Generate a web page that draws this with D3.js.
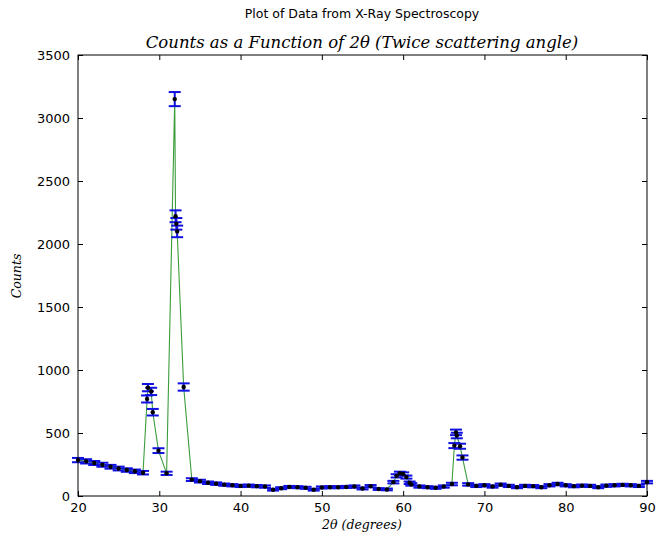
<!DOCTYPE html>
<html>
<head>
<meta charset="utf-8">
<script src="https://cdn.jsdelivr.net/npm/d3@7"></script>
<style>
  body { margin: 0; background: #fff; }
  svg { display: block; }
  .tick text { font-family: "DejaVu Sans", sans-serif; font-size: 13px; fill: #000; }
</style>
</head>
<body>
<div id="chart"></div>
<script>
// Data: scattering angle (2 theta) and counts, with error sizes
var angles = [20, 21, 22, 23, 24, 25, 26, 27, 28,
  28.5, 28.6, 29.0, 29.2, 29.9, 30.9, 31.9, 32.0, 32.1, 32.2, 33.0, 34.0,
  35, 36, 37, 38, 39, 40, 41, 42, 43, 44, 45, 46, 47, 48, 49, 50, 51, 52, 53, 54, 55, 56, 57, 58,
  58.8, 59.2, 59.6, 60.0, 60.4, 60.8,
  61, 62, 63, 64, 65, 66, 66.3, 66.5, 66.6, 67.0, 67.3,
  68, 69, 70, 71, 72, 73, 74, 75, 76, 77, 78, 79, 80, 81, 82, 83, 84, 85, 86, 87, 88, 89, 90];
var counts = [285, 275, 262, 248, 232, 218, 206, 196, 185,
  770, 860, 830, 665, 360, 180, 3150, 2220, 2160, 2100, 865, 130,
  118, 105, 98, 90, 85, 80, 82, 78, 75, 50, 62, 72, 70, 65, 50, 68, 70, 70, 72, 75, 60, 78, 55, 52,
  110, 160, 180, 175, 150, 105,
  92, 75, 70, 65, 75, 95, 400, 505, 480, 395, 305,
  92, 80, 85, 75, 90, 80, 70, 80, 78, 70, 85, 95, 85, 78, 82, 80, 70, 82, 85, 88, 85, 80, 110];
var errors = [17, 17, 16, 16, 15, 15, 14, 14, 14,
  28, 29, 29, 26, 19, 13, 56, 47, 46, 46, 29, 11,
  11, 10, 10, 9, 9, 9, 9, 9, 9, 7, 8, 8, 8, 8, 7, 8, 8, 8, 8, 9, 8, 9, 7, 7,
  10, 13, 13, 13, 12, 10,
  10, 9, 8, 8, 9, 10, 20, 22, 22, 20, 17,
  10, 9, 9, 9, 9, 9, 8, 9, 9, 8, 9, 10, 9, 9, 9, 9, 8, 9, 9, 9, 9, 9, 10];
var xTicks = [20, 30, 40, 50, 60, 70, 80, 90];
var yTicks = [0, 500, 1000, 1500, 2000, 2500, 3000, 3500];

var W = 657, H = 537;
var margin = {top: 55, right: 10, bottom: 41, left: 78},
  width = 647 - margin.left,
  height = 496 - margin.top;

var svg = d3.select("#chart").append("svg")
  .attr("width", W).attr("height", H);

var x = d3.scaleLinear().domain([20, 90]).range([0, width]);
var y = d3.scaleLinear().domain([0, 3500]).range([height, 0]);

var g = svg.append("g").attr("transform", "translate(" + margin.left + "," + margin.top + ")");

var points = angles.map(function(a, i) { return {x: a, y: counts[i], e: errors[i]}; });

// connecting line
g.append("path")
  .datum(points)
  .attr("fill", "none")
  .attr("stroke", "#3c9c3c")
  .attr("stroke-width", 1.1)
  .attr("d", d3.line().x(function(d) { return x(d.x); }).y(function(d) { return y(d.y); }));

// error bars
var bars = g.append("g").attr("stroke", "#1010e0").attr("stroke-width", 2);
points.forEach(function(d) {
  var cx = x(d.x), top = y(d.y + d.e), bot = y(d.y - d.e);
  bars.append("line").attr("x1", cx).attr("x2", cx).attr("y1", top).attr("y2", bot);
  bars.append("line").attr("x1", cx - 6).attr("x2", cx + 6).attr("y1", top).attr("y2", top);
  bars.append("line").attr("x1", cx - 6).attr("x2", cx + 6).attr("y1", bot).attr("y2", bot);
});

// markers
g.append("g").selectAll("circle")
  .data(points)
  .enter()
  .append("circle")
  .attr("cx", function(d) { return x(d.x); })
  .attr("cy", function(d) { return y(d.y); })
  .attr("r", 2.2)
  .attr("fill", "#000");

// axes, ticks pointing inwards on all four sides
function styleAxis(sel) {
  sel.select(".domain").remove();
  sel.selectAll(".tick line").attr("stroke", "#000");
}
var fmt = d3.format("d");
g.append("g").attr("transform", "translate(0," + height + ")")
  .call(d3.axisBottom(x).tickValues(xTicks).tickFormat(fmt).tickSizeInner(-5).tickSizeOuter(0).tickPadding(7))
  .call(styleAxis);
g.append("g")
  .call(d3.axisTop(x).tickValues(xTicks).tickSizeInner(-5).tickSizeOuter(0).tickFormat(""))
  .call(styleAxis);
g.append("g")
  .call(d3.axisLeft(y).tickValues(yTicks).tickFormat(fmt).tickSizeInner(-5).tickSizeOuter(0).tickPadding(8))
  .call(styleAxis);
g.append("g").attr("transform", "translate(" + width + ",0)")
  .call(d3.axisRight(y).tickValues(yTicks).tickSizeInner(-5).tickSizeOuter(0).tickFormat(""))
  .call(styleAxis);

g.append("rect")
  .attr("width", width).attr("height", height)
  .attr("fill", "none").attr("stroke", "#000").attr("stroke-width", 1);

// titles
svg.append("text")
  .attr("x", 362).attr("y", 18)
  .attr("text-anchor", "middle")
  .style("font-family", "'DejaVu Sans', sans-serif")
  .style("font-size", "12.5px")
  .text("Plot of Data from X-Ray Spectroscopy");

svg.append("text")
  .attr("x", 362).attr("y", 48)
  .attr("text-anchor", "middle")
  .style("font-family", "'DejaVu Serif', serif")
  .style("font-style", "italic")
  .style("font-size", "16.5px")
  .text("Counts as a Function of 2\u03b8 (Twice scattering angle)");

svg.append("text")
  .attr("x", 362).attr("y", 529)
  .attr("text-anchor", "middle")
  .style("font-family", "'DejaVu Serif', serif")
  .style("font-style", "italic")
  .style("font-size", "12.5px")
  .text("2\u03b8 (degrees)");

svg.append("text")
  .attr("transform", "translate(21,276) rotate(-90)")
  .attr("text-anchor", "middle")
  .style("font-family", "'DejaVu Serif', serif")
  .style("font-style", "italic")
  .style("font-size", "12.5px")
  .text("Counts");
</script>
</body>
</html>
